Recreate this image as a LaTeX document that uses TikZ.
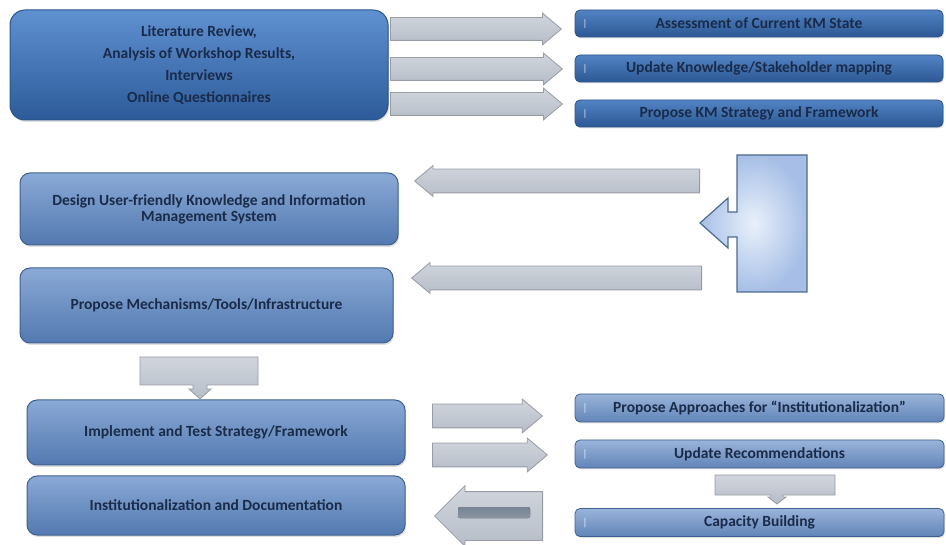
\documentclass[tikz,border=0pt]{standalone}
\usepackage{fontspec}
\setmainfont{Carlito}
\usetikzlibrary{shapes.arrows,shadows}

\definecolor{txt}{HTML}{1A2B4A}
\definecolor{srcTop}{HTML}{5F90D0}
\definecolor{srcBot}{HTML}{2D5B9A}
\definecolor{srcLine}{HTML}{2A558C}
\definecolor{taskTop}{HTML}{5283C3}
\definecolor{taskBot}{HTML}{2C5894}
\definecolor{stepTop}{HTML}{8AA9D6}
\definecolor{stepBot}{HTML}{5279B0}
\definecolor{stepLine}{HTML}{3F6191}
\definecolor{lowTop}{HTML}{9AB4DA}
\definecolor{lowBot}{HTML}{6184B8}
\definecolor{arrowLine}{HTML}{969BA4}
\definecolor{arrowTop}{HTML}{D0D5DD}
\definecolor{arrowMid}{HTML}{F1F3F6}
\definecolor{arrowBot}{HTML}{B7BDC7}
\definecolor{callLine}{HTML}{4D6A8E}
\definecolor{callIn}{HTML}{E9F0FB}
\definecolor{callOut}{HTML}{A7BFE6}
\definecolor{barDark}{HTML}{3E4E66}

\def\tasks{{(759,23.5)/assess/{Assessment of Current KM State}}, {(759,68.5)/mapping/{Update Knowledge/Stakeholder mapping}}, {(759,113.5)/strategy/{Propose KM Strategy and Framework}}}
\def\lowTasks{{(759.5,408)/approach/{Propose Approaches for ``Institutionalization''}}, {(759.5,454)/recommend/{Update Recommendations}}, {(759.5,522.5)/capacity/{Capacity Building}}}
\def\steps{{(209,209)/design/378/72/{Design User-friendly Knowledge and Information\\Management System}}, {(206.5,305.5)/mech/373/75/{Propose Mechanisms/Tools/Infrastructure}}, {(216,432.5)/impl/378/65/{Implement and Test Strategy/Framework}}, {(216,505.5)/inst/378/59/{Institutionalization and Documentation}}}
\def\arrowsRight{{(390,29)/arA/171}, {(390,69)/arB/172}, {(390,104)/arC/172}}
\def\arrowsLeft{{(700,181)/alA/285}, {(702,278)/alB/290}}
\def\arrowsLow{{(432,416)/arD/110}, {(432,455)/arE/115}}

\tikzstyle{box-text}=[text=txt, font=\bfseries\fontsize{15.5}{16}\selectfont, align=center, inner sep=0pt]
\tikzstyle{src-box}=[box-text, draw=srcLine, line width=1pt, rounded corners=15pt, top color=srcTop, bottom color=srcBot, minimum width=378pt, minimum height=110pt, drop shadow={opacity=0.25, shadow xshift=1pt, shadow yshift=-2pt}]
\tikzstyle{step-box}=[box-text, draw=stepLine, line width=1pt, rounded corners=10pt, top color=stepTop, bottom color=stepBot, drop shadow={opacity=0.25, shadow xshift=1pt, shadow yshift=-2pt}]
\tikzstyle{bevel}=[path picture={\fill[white, opacity=0.35, rounded corners=0.7pt] ([xshift=9pt, yshift=-9pt]path picture bounding box.north west) rectangle ([xshift=10.5pt, yshift=9pt]path picture bounding box.south west);}]
\tikzstyle{task-box}=[box-text, bevel, draw=srcLine, line width=0.8pt, rounded corners=5pt, top color=taskTop, bottom color=taskBot, minimum width=368pt, minimum height=27pt, drop shadow={opacity=0.25, shadow xshift=1pt, shadow yshift=-1.5pt}]
\tikzstyle{low-box}=[box-text, bevel, draw=stepLine, line width=0.8pt, rounded corners=5pt, top color=lowTop, bottom color=lowBot, minimum width=369pt, minimum height=28pt, drop shadow={opacity=0.25, shadow xshift=1pt, shadow yshift=-1.5pt}]
\tikzstyle{grey-arrow}=[single arrow, draw=arrowLine, line width=0.8pt, top color=arrowTop, middle color=arrowMid, bottom color=arrowBot, inner xsep=0pt, inner ysep=11pt, single arrow tip angle=80, single arrow head extend=4.5pt, minimum width=0pt, anchor=tail]
\tikzstyle{callout}=[draw=callLine, line width=1.2pt, inner color=callIn, outer color=callOut]
\tikzstyle{grey-callout}=[draw=arrowLine, line width=0.8pt, top color=arrowTop, middle color=arrowMid, bottom color=arrowBot]

\begin{document}
\begin{tikzpicture}[x=1pt, y=-1pt]
  \useasboundingbox (0,0) rectangle (946,545);

  % First we draw the boxes
  \node[src-box, font=\bfseries\fontsize{15.5}{22}\selectfont] (source) at (199,65)
    {Literature Review,\\Analysis of Workshop Results,\\Interviews\\Online Questionnaires};

  \foreach \pos/\name/\label in \tasks
    \node[task-box] (\name) at \pos {\label};

  \foreach \pos/\name/\label in \lowTasks
    \node[low-box] (\name) at \pos {\label};

  \foreach \pos/\name/\w/\h/\label in \steps
    \node[step-box, minimum width=\w pt, minimum height=\h pt] (\name) at \pos {\label};

  % Block arrows between the boxes
  \foreach \pos/\name/\len in \arrowsRight
    \node[grey-arrow, minimum height=\len pt] (\name) at \pos {};

  \foreach \pos/\name/\len in \arrowsLeft
    \node[grey-arrow, shape border rotate=180, inner ysep=11.5pt, single arrow head extend=3.5pt, minimum height=\len pt] (\name) at \pos {};

  \foreach \pos/\name/\len in \arrowsLow
    \node[grey-arrow, inner ysep=11.5pt, single arrow head extend=5pt, minimum height=\len pt] (\name) at \pos {};

  \node[grey-arrow, shape border rotate=180, inner ysep=24pt, single arrow head extend=6pt,
    single arrow tip angle=90, minimum height=108pt] (back) at (543,516) {};
  \fill[rounded corners=2pt, top color=barDark!70, middle color=barDark, bottom color=barDark!60]
    (458,507) rectangle (530,518);

  % Callouts
  \path[callout] (737,155) -- (807,155) -- (807,292) -- (737,292) -- (737,237) -- (728,237)
    -- (728,248) -- (700,223) -- (728,198) -- (728,212) -- (737,212) -- cycle;

  \path[grey-callout] (140,357) -- (258,357) -- (258,385) -- (207,385) -- (207,389) -- (211,389)
    -- (200,399) -- (189,389) -- (193,389) -- (193,385) -- (140,385) -- cycle;

  \path[grey-callout] (715,475) -- (835,475) -- (835,495) -- (783,495) -- (783,497) -- (786,497)
    -- (777,504) -- (768,497) -- (771,497) -- (771,495) -- (715,495) -- cycle;
\end{tikzpicture}
\end{document}
